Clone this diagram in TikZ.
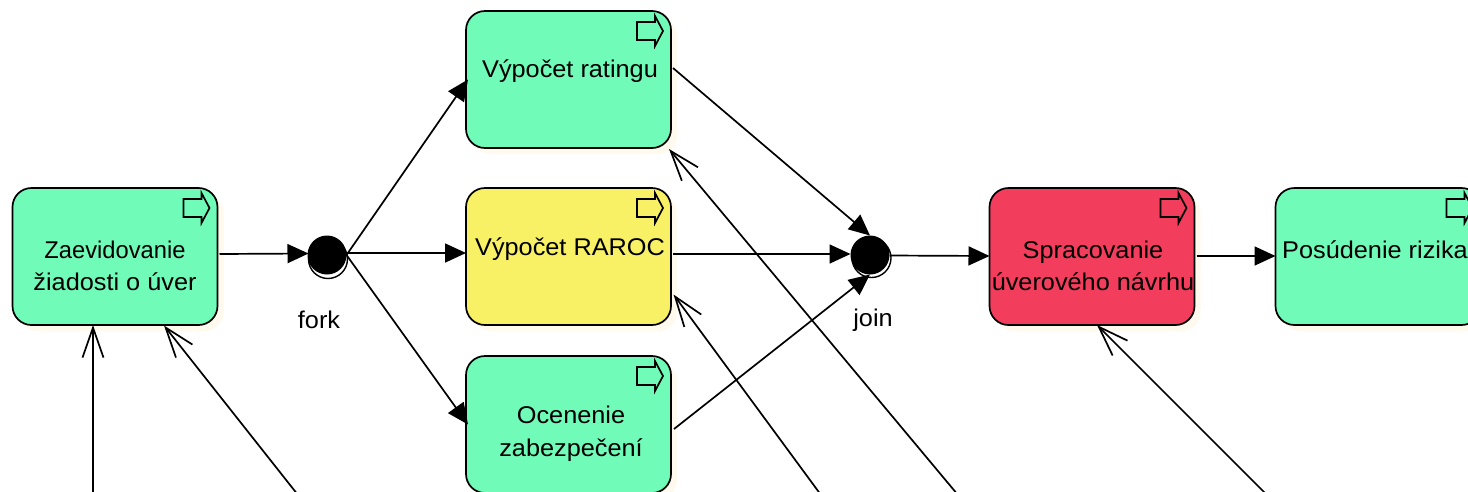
\documentclass[tikz,border=0pt]{standalone}
\usepackage{fontspec}
\setmainfont[FakeStretch=1.045]{Liberation Sans}
\newfontfamily\plainarial[FakeStretch=0.98]{Liberation Sans}
\usetikzlibrary{arrows.meta,shadows}
\definecolor{boxgreen}{HTML}{70FBB8}
\definecolor{boxyellow}{HTML}{F8F065}
\definecolor{boxred}{HTML}{F23D5D}
\definecolor{cream}{HTML}{FFF9EE}
\tikzset{
  x=1pt,y=1pt,
  taskbox/.style={draw=black,line width=1.7pt,rounded corners=19pt,minimum width=205pt,minimum height=137pt,outer sep=0pt,inner sep=0pt,
    general shadow={fill=cream,shadow xshift=6pt,shadow yshift=-6pt}},
  lbl/.style={align=center,font=\fontsize{24.2}{32.5}\selectfont,inner sep=0pt},
  gate/.style={circle,fill=black,minimum size=39pt,inner sep=0pt,outer sep=0pt},
  gateback/.style={circle,draw=black,line width=1.4pt,fill=white,minimum size=39pt,inner sep=0pt},
  flow/.style={line width=1.7pt,-{Triangle[length=21pt,width=19pt]}},
  assoc/.style={line width=1.7pt,-{Straight Barb[length=30pt,width=21pt,line width=1.7pt]}},
  taskicon/.style={draw=black,line width=1.7pt,line join=miter}
}
\newcommand{\taskicon}[1]{\draw[taskicon] ([shift={(-34,-11)}]#1.north east) -- ++(18,0) -- ++(0,6) -- ++(8,-15) -- ++(-8,-15) -- ++(0,6) -- ++(-18,0) -- cycle;}
\begin{document}
\begin{tikzpicture}
\useasboundingbox (0,0) rectangle (1468,-491);
\clip (0,0) rectangle (1468,-491);
\node[taskbox,fill=boxgreen] (A) at (115,-256.5) {};
\node[taskbox,fill=boxgreen] (B) at (568.5,-79.5) {};
\node[taskbox,fill=boxyellow] (C) at (568.5,-256.5) {};
\node[taskbox,fill=boxgreen] (D) at (568.5,-424.5) {};
\node[taskbox,fill=boxred] (E) at (1092,-256.5) {};
\node[taskbox,fill=boxgreen] (F) at (1378,-256.5) {};
\foreach \n in {A,B,C,D,E,F}{\taskicon{\n}}
\node[lbl] (Atext) at (115,-266) {{\plainarial Zaevidovanie}\\žiadosti o úver};
\node[lbl] (Btext) at (570,-71) {Výpočet ratingu};
\node[lbl] (Ctext) at (570,-249.5) {Výpočet RAROC};
\node[lbl] (Dtext) at (571,-433.5) {Ocenenie\\zabezpečení};
\node[lbl] (Etext) at (1093,-266) {Spracovanie\\úverového návrhu};
\node[lbl] (Ftext) at (1375,-249.5) {Posúdenie rizika};
\node[gateback] (forkb) at (328,-259) {};
\node[gate] (fork) at (327,-255) {};
\node[gateback] (joinb) at (871.5,-258) {};
\node[gate] (join) at (870,-255) {};
\node[lbl] (forkl) at (319,-320) {fork};
\node[lbl] (joinl) at (873,-320) {join};
\coordinate (a1) at (93,-495);
\coordinate (a2) at (298,-495);
\coordinate (a3) at (821,-495);
\coordinate (a4) at (958,-495);
\coordinate (a5) at (1267,-495);
\draw[flow] ([xshift=2pt,yshift=2.5pt]A.east) -- ([yshift=1.5pt,xshift=1pt]fork.west);
\draw[flow] (fork.east) -- ([xshift=2pt]B.west);
\draw[flow] ([yshift=2pt]fork.east) -- ([yshift=3.5pt]C.west);
\draw[flow] (fork.east) -- ([xshift=2pt]D.west);
\draw[flow] ([xshift=2pt,yshift=11.5pt]B.east) -- (join.north);
\draw[flow] ([xshift=2pt,yshift=2.5pt]C.east) -- ([yshift=1pt]join.west);
\draw[flow] ([xshift=3pt,yshift=-4.5pt]D.east) -- (join.south);
\draw[flow] ([yshift=-0.5pt]join.east) -- ([yshift=0.5pt]E.west);
\draw[flow] ([xshift=2pt,yshift=0.5pt]E.east) -- ([yshift=0.5pt]F.west);
\draw[assoc] (a1) -- ([yshift=0pt]A.south -| a1);
\draw[assoc] (a2) -- ([xshift=49pt,yshift=-0.5pt]A.south);
\draw[assoc] (a3) -- ([xshift=2.5pt,yshift=-38pt]C.east);
\draw[assoc] (a4) -- ([xshift=-2pt,yshift=-1pt]B.south east);
\draw[assoc] (a5) -- ([xshift=5pt,yshift=0pt]E.south);
\end{tikzpicture}
\end{document}
